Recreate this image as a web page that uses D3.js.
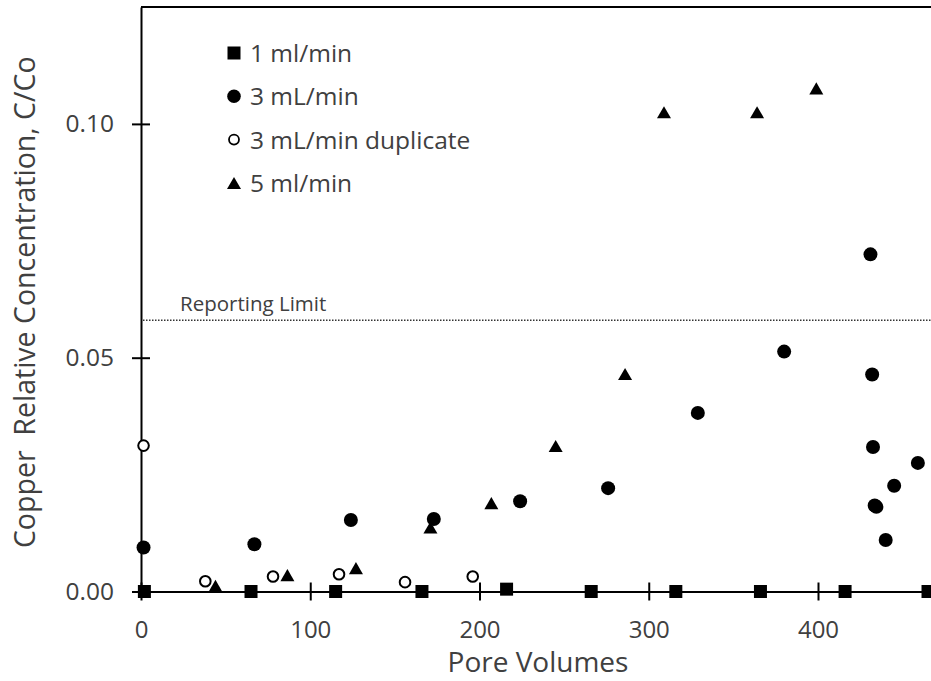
<!DOCTYPE html>
<html>
<head>
<meta charset="utf-8">
<script src="https://cdn.jsdelivr.net/npm/d3@7"></script>
<style>
  html, body { margin: 0; padding: 0; background: #fff; }
  svg { display: block; }
  text { font-family: "Open Sans", "DejaVu Sans", sans-serif; fill: #404040; }
</style>
</head>
<body>
<svg id="chart" width="931" height="681"></svg>
<script>
// Copper breakthrough data: pore volumes (x) and relative concentration C/Co (y)
const flow1Pv = [2, 65, 115, 166, 216, 266, 316, 366, 416, 465];
const flow1Cc = [0, 0, 0, 0, 0.0005, 0, 0, 0, 0, 0];

const flow3Pv = [1.5, 67, 124, 173, 224, 276, 329, 380, 431, 432, 432.5, 433.5, 434.5, 440, 445, 459];
const flow3Cc = [0.0094, 0.0101, 0.0153, 0.0155, 0.0193, 0.0221, 0.0382, 0.0513, 0.0721, 0.0464, 0.0309, 0.0184, 0.0181, 0.0110, 0.0226, 0.0275];

const dupPv = [1.5, 38, 78, 117, 156, 196];
const dupCc = [0.0312, 0.0022, 0.0032, 0.0037, 0.0020, 0.0032];

const flow5Pv = [44, 86.5, 127, 171, 207, 245, 286, 309, 364, 399];
const flow5Cc = [0.0012, 0.0035, 0.0050, 0.0137, 0.0189, 0.0311, 0.0465, 0.1025, 0.1025, 0.1076];

const seriesNames = ["1 ml/min", "3 mL/min", "3 mL/min duplicate", "5 ml/min"];
const xTicks = [0, 100, 200, 300, 400];
const yTicks = [0, 0.05, 0.10];
const reportingLimit = 0.058;

const svg = d3.select("#chart");
const plotLeft = 141, plotTop = 7, plotBottom = 591.5;

const x = d3.scaleLinear().domain([0, 470]).range([plotLeft, plotLeft + 470 * 1.6925]);
const y = d3.scaleLinear().domain([0, 0.125]).range([plotBottom, plotTop]);

// triangle centred on its bounding box
const triBox = {
  draw(ctx, size) {
    const w = Math.sqrt(size);
    const h = w * 0.86;
    ctx.moveTo(0, -h / 2);
    ctx.lineTo(w / 2, h / 2);
    ctx.lineTo(-w / 2, h / 2);
    ctx.closePath();
  }
};

// top frame line
svg.append("line")
  .attr("x1", plotLeft).attr("x2", 931)
  .attr("y1", plotTop).attr("y2", plotTop)
  .attr("stroke", "#000").attr("stroke-width", 2);

// reporting limit
svg.append("line")
  .attr("x1", plotLeft + 2).attr("x2", 931)
  .attr("y1", y(reportingLimit)).attr("y2", y(reportingLimit))
  .attr("stroke", "#333").attr("stroke-width", 1.5)
  .attr("stroke-dasharray", "1.5,1.5");
svg.append("text")
  .attr("x", 180).attr("y", y(reportingLimit) - 9)
  .style("font-size", "20.5px")
  .text("Reporting Limit");

// axes
const xAxis = d3.axisBottom(x).tickValues(xTicks).tickFormat(d3.format("d"))
  .tickSizeInner(9).tickSizeOuter(0).tickPadding(20);
const gx = svg.append("g").attr("transform", `translate(0,${plotBottom})`).call(xAxis);
gx.select(".domain").attr("stroke", "#000").attr("stroke-width", 2);
gx.selectAll(".tick line").attr("stroke", "#000").attr("stroke-width", 2).attr("y1", -9);
gx.selectAll(".tick text").style("font-size", "24px").attr("fill", "#404040")
  .style("font-family", "'Open Sans', sans-serif");

const yAxis = d3.axisLeft(y).tickValues(yTicks).tickFormat(d3.format(".2f"))
  .tickSizeInner(9).tickSizeOuter(0).tickPadding(18);
const gy = svg.append("g").attr("transform", `translate(${plotLeft},0)`).call(yAxis);
gy.select(".domain").attr("stroke", "#000").attr("stroke-width", 2);
gy.selectAll(".tick line").attr("stroke", "#000").attr("stroke-width", 2).attr("x1", 9);
gy.selectAll(".tick text").style("font-size", "24.5px").attr("fill", "#404040")
  .style("font-family", "'Open Sans', sans-serif");

// axis titles
svg.append("text")
  .attr("x", 538).attr("y", 672)
  .attr("text-anchor", "middle")
  .style("font-size", "28px")
  .text("Pore Volumes");
svg.append("text")
  .attr("transform", `translate(35,${(plotTop + plotBottom) / 2 + 3}) rotate(-90)`)
  .attr("text-anchor", "middle")
  .style("font-size", "28.5px")
  .style("white-space", "pre")
  .text("Copper  Relative Concentration, C/Co");

// markers
const plot = svg.append("g");
const pts = (xs, ys) => xs.map((v, i) => ({ pv: v, c: ys[i] }));

plot.selectAll(".sq").data(pts(flow1Pv, flow1Cc)).join("rect")
  .attr("x", d => x(d.pv) - 6.5).attr("y", d => y(d.c) - 6.5)
  .attr("width", 13).attr("height", 13).attr("fill", "#000");

plot.selectAll(".dup").data(pts(dupPv, dupCc)).join("circle")
  .attr("cx", d => x(d.pv)).attr("cy", d => y(d.c)).attr("r", 5.3)
  .attr("fill", "#fff").attr("stroke", "#000").attr("stroke-width", 2);

plot.selectAll(".tri").data(pts(flow5Pv, flow5Cc)).join("path")
  .attr("transform", d => `translate(${x(d.pv)},${y(d.c)})`)
  .attr("d", d3.symbol(triBox, 196)).attr("fill", "#000");

plot.selectAll(".dot").data(pts(flow3Pv, flow3Cc)).join("circle")
  .attr("cx", d => x(d.pv)).attr("cy", d => y(d.c)).attr("r", 7)
  .attr("fill", "#000");

// legend
const legend = svg.append("g");
const rowY = i => 53 + i * 43.3;
const lx = 234;
legend.append("rect").attr("x", lx - 6.5).attr("y", rowY(0) - 6.5).attr("width", 13).attr("height", 13).attr("fill", "#000");
legend.append("circle").attr("cx", lx).attr("cy", rowY(1)).attr("r", 6.8).attr("fill", "#000");
legend.append("circle").attr("cx", lx).attr("cy", rowY(2)).attr("r", 5).attr("fill", "#fff").attr("stroke", "#000").attr("stroke-width", 1.8);
legend.append("path").attr("transform", `translate(${lx},${rowY(3)})`).attr("d", d3.symbol(triBox, 196)).attr("fill", "#000");
legend.selectAll("text").data(seriesNames).join("text")
  .attr("x", 250).attr("y", (d, i) => rowY(i) + 9)
  .style("font-size", "24.5px")
  .text(d => d);
</script>
</body>
</html>
